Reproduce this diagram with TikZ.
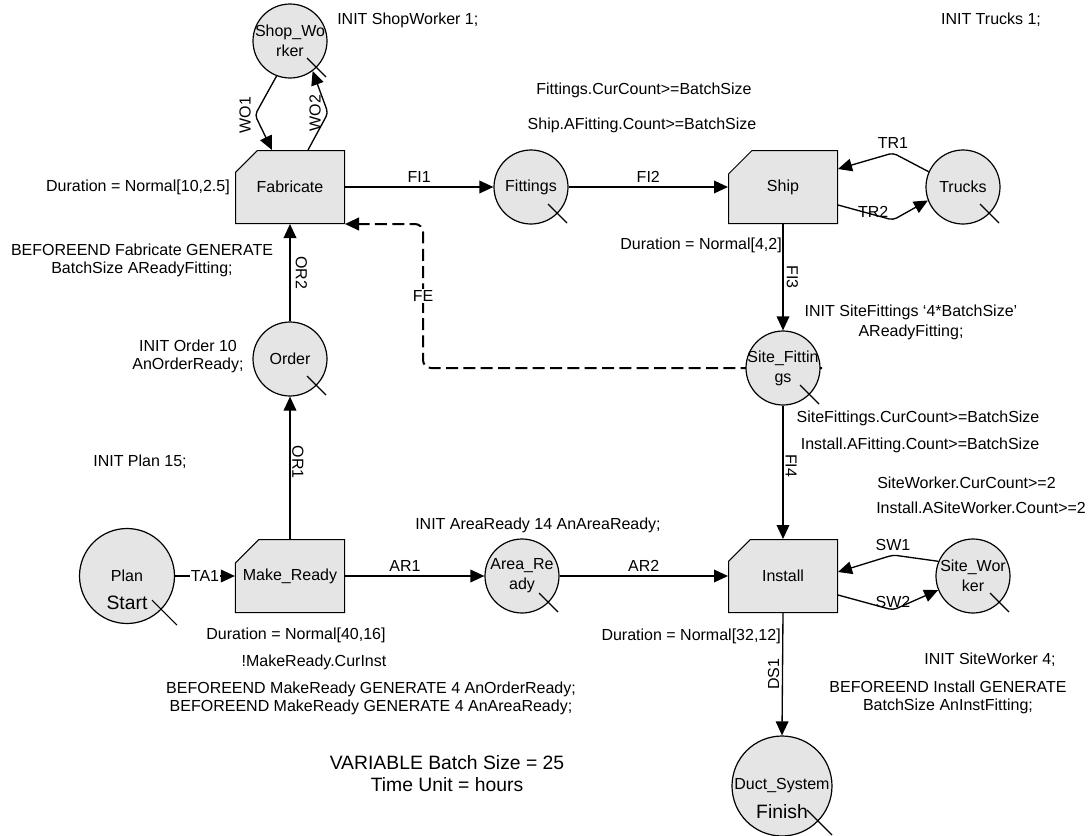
\documentclass[tikz,border=0pt]{standalone}
\usepackage{fontspec}
\setmainfont{Liberation Sans}
\usetikzlibrary{shapes.misc,arrows.meta}
\begin{document}
\begin{tikzpicture}[x=0.75pt,y=-0.75pt,
  font=\fontsize{12pt}{13.5pt}\selectfont,
  proc/.style={chamfered rectangle, chamfered rectangle corners=north west,
    chamfered rectangle xsep=12.75pt, chamfered rectangle ysep=12pt,
    minimum width=81.75pt, minimum height=54.75pt, draw, line width=0.75pt,
    fill=black!10, inner sep=0pt},
  place/.style={circle, draw, line width=0.9pt, fill=black!10, minimum size=55.5pt, inner sep=0pt},
  bigplace/.style={place, minimum size=73pt},
  inlbl/.style={align=center, font=\fontsize{12pt}{15pt}\selectfont, inner sep=0pt},
  biglbl/.style={font=\fontsize{14.5pt}{16pt}\selectfont, inner sep=0pt},
  conn/.style={line width=1pt, -{Triangle[length=10.5pt,width=9.5pt]}},
  fe/.style={conn, line width=1.5pt, dash pattern=on 9pt off 4pt, rounded corners=6pt},
  bentconn/.style={conn, rounded corners=3pt},
  elbl/.style={inner sep=3pt},
  note/.style={align=center, inner sep=0pt},
  tick/.style={line width=0.8pt},
]
\useasboundingbox (0,0) rectangle (1090,836);

% activities
\node[proc] (fab) at (290,187) {Fabricate};
\node[proc] (ship) at (783,187) {Ship};
\node[proc] (mr) at (290,576) {Make\_Ready};
\node[proc] (inst) at (783,576) {Install};

% dashed FE (behind Site_Fittings)
\coordinate (fes) at (822,368);
\coordinate (fec) at (423,368);
\draw[fe] (fes) -- (fec) -- node[fill=white, inner sep=1pt]{FE} (fec |- fab.south east) -- (fab.south east);

% queues
\node[place, label={[inlbl]center:Shop\_Wo\\rker}] (shop) at (290,41) {};
\node[place, label={[inlbl]center:Fittings}] (fit) at (531,187) {};
\node[place, label={[inlbl]center:Trucks}] (trucks) at (963,187) {};
\node[place, label={[inlbl]center:Order}] (order) at (290,359) {};
\node[place, label={[inlbl]center:Site\_Fittin\\gs}] (sf) at (783,368) {};
\node[place, label={[inlbl]center:Area\_Re\\ady}] (ar) at (522,576) {};
\node[place, label={[inlbl]center:Site\_Wor\\ker}] (sw) at (973,576) {};
\node[bigplace, minimum size=71.25pt, label={[inlbl]center:Plan},
      label={[biglbl, yshift=-20.25pt]center:Start}] (plan) at (127,576) {};
\node[bigplace, minimum size=75pt, label={[inlbl]center:Duct\_System},
      label={[biglbl, yshift=-19.5pt]center:Finish}] (duct) at (782,786) {};

% ticks on queues
\foreach \q in {shop,fit,trucks,order,sf,ar,sw}
  \draw[tick] ([shift={(17,17)}]\q.center) -- ++(19,19);
\foreach \q in {plan,duct}
  \draw[tick] ([shift={(25,24)}]\q.center) -- ++(25,25);

% connectors
\draw[conn] (fab.east) -- node[above, elbl]{FI1} (fit.west);
\draw[conn] (fit.east) -- node[above, elbl]{FI2} (ship.west);
\draw[bentconn] (shop.249) -- (255,115) node[xshift=-7.5pt, rotate=90]{WO1} -- ([shift={(-18,0)}]fab.north);
\draw[bentconn] ([shift={(18,0)}]fab.north) -- (328,113) node[xshift=-9.75pt, rotate=90]{WO2} -- (shop.307);
\draw[bentconn] (trucks.156) -- (893,153) node[above, elbl]{TR1} -- ([shift={(0,-18)}]ship.east);
\draw[bentconn] ([shift={(0,18)}]ship.east) -- node[pos=.64, yshift=2pt]{TR2} (893,220) -- (trucks.201);
\draw[conn] (ship.south) -- node[midway, xshift=7pt, rotate=-90]{FI3} (sf.north);
\draw[conn] (sf.south) -- node[pos=.45, xshift=6pt, rotate=-90]{FI4} (inst.north);
\draw[conn] (order.north) -- node[midway, xshift=8.5pt, rotate=-90]{OR2} (fab.south);
\draw[conn] (mr.north) -- node[pos=.54, xshift=6pt, rotate=-90]{OR1} (order.south);
\draw[conn] (plan.east) -- node[fill=white, inner sep=1pt]{TA1} (mr.west);
\draw[conn] (mr.east) -- node[pos=.43, above, elbl]{AR1} (ar.west);
\draw[conn] (ar.east) -- node[above, elbl]{AR2} (inst.west);
\draw[bentconn] (sw.157) -- (893,555) node[above, elbl]{SW1} -- ([shift={(0,-4)}]inst.east);
\draw[bentconn] ([shift={(0,19)}]inst.east) -- (893,610) node[yshift=6pt]{SW2} -- (sw.202);
\draw[conn] (inst.south) -- node[midway, xshift=-6.75pt, rotate=90]{DS1} (duct.north);

% notes
\node[note, anchor=west] (n1) at (337,20) {INIT ShopWorker 1;};
\node[note] (n2) at (644,90) {Fittings.CurCount>=BatchSize};
\node[note] (n3) at (642,125) {Ship.AFitting.Count>=BatchSize};
\node[note] (n4) at (991,20) {INIT Trucks 1;};
\node[note] (n5) at (138,187) {Duration = Normal[10,2.5]};
\node[note] (n6) at (142,260) {BEFOREEND Fabricate GENERATE\\BatchSize AReadyFitting;};
\node[note] (n7) at (188,356) {INIT Order 10\\AnOrderReady;};
\node[note] (n8) at (140,462) {INIT Plan 15;};
\node[note] (n9) at (538,525) {INIT AreaReady 14 AnAreaReady;};
\node[note] (n10) at (296,635) {Duration = Normal[40,16]};
\node[note] (n11) at (314,662) {!MakeReady.CurInst};
\node[note] (n12) at (371,698) {BEFOREEND MakeReady GENERATE 4 AnOrderReady;\\BEFOREEND MakeReady GENERATE 4 AnAreaReady;};
\node[note, font=\fontsize{14.5pt}{16.5pt}\selectfont] (n13) at (447,774) {VARIABLE Batch Size = 25\\Time Unit = hours};
\node[note, anchor=east] (n14) at (782,245) {Duration = Normal[4,2]};
\node[note, font=\fontsize{12pt}{15pt}\selectfont] (n15) at (911,322) {INIT SiteFittings ‘4*BatchSize’\\AReadyFitting;};
\node[note] (n16) at (918,418) {SiteFittings.CurCount>=BatchSize};
\node[note] (n17) at (920,445) {Install.AFitting.Count>=BatchSize};
\node[note, anchor=west] (n18) at (877,483) {SiteWorker.CurCount>=2};
\node[note, anchor=west] (n19) at (876,508) {Install.ASiteWorker.Count>=2};
\node[note, anchor=east] (n20) at (781,636) {Duration = Normal[32,12]};
\node[note] (n21) at (990,660) {INIT SiteWorker 4;};
\node[note] (n22) at (948,697) {BEFOREEND Install GENERATE\\BatchSize AnInstFitting;};
\end{tikzpicture}
\end{document}
